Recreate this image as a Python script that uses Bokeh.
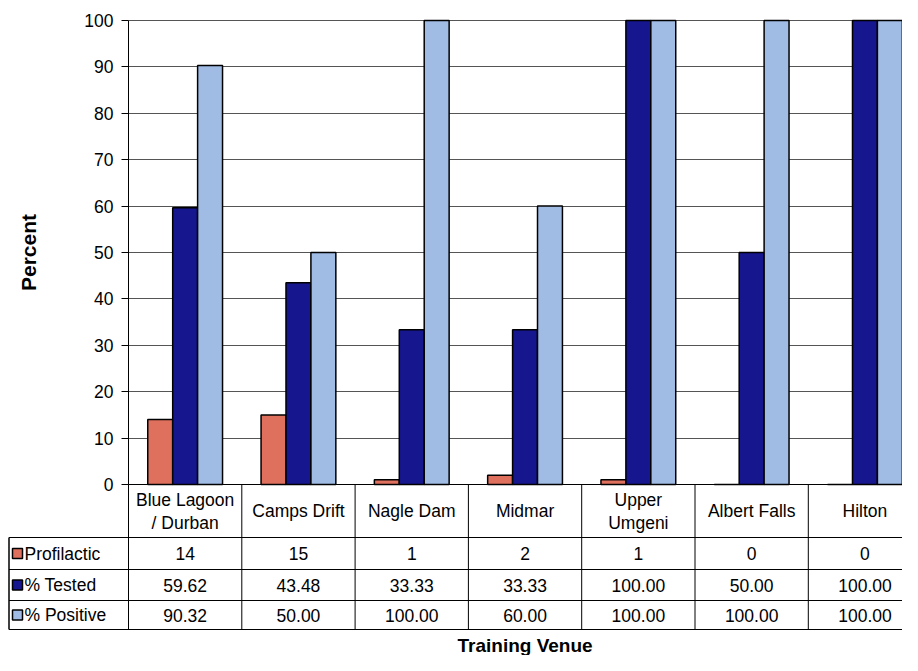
from bokeh.plotting import figure
from bokeh.models import Range1d, FixedTicker, ColumnDataSource
from bokeh.core.properties import value
from bokeh.embed import file_html
from bokeh.resources import INLINE

# ---------------- data ----------------
venues = ["Blue Lagoon\n/ Durban", "Camps Drift", "Nagle Dam", "Midmar",
          "Upper\nUmgeni", "Albert Falls", "Hilton"]
profilactic = [14, 15, 1, 2, 1, 0, 0]
tested = [59.62, 43.48, 33.33, 33.33, 100.00, 50.00, 100.00]
positive = [90.32, 50.00, 100.00, 60.00, 100.00, 100.00, 100.00]
row_names = ["Profilactic", "% Tested", "% Positive"]
y_ticks = [0, 10, 20, 30, 40, 50, 60, 70, 80, 90, 100]

# ---------------- style / layout ----------------
FONT = "Liberation Sans"
colors = ["#E0705E", "#16168F", "#A0BCE4"]
W, H = 902, 655
PX = 113.3          # pixels per category
LEFT = 128          # px where category axis starts
PY = 4.64           # pixels per percent
ZERO_PX = 484       # px of y = 0
x_start = -LEFT / PX
x_end = (W - LEFT) / PX
y_start = -(H - ZERO_PX) / PY
y_end = ZERO_PX / PY

def ypx(py):
    return -(py - ZERO_PX) / PY

def xpx(px):
    return x_start + px / PX

row_lines = [ypx(537), ypx(569), ypx(600), ypx(629)]
header_mid = ypx(510.5)
row_mids = [ypx(553), ypx(584.5), ypx(614.5)]

p = figure(width=W, height=H, x_range=Range1d(x_start, x_end),
           y_range=Range1d(y_start, y_end), output_backend="svg",
           toolbar_location=None, min_border_left=0, min_border_right=0,
           min_border_top=0, min_border_bottom=0, x_axis_location=None,
           y_axis_location="left")
p.outline_line_color = None
p.background_fill_color = "white"
p.border_fill_color = "white"

# y axis at x = 0
ax = p.yaxis[0]
ax.fixed_location = 0
ax.bounds = (0, 100)
ax.ticker = FixedTicker(ticks=y_ticks)
ax.major_tick_in = 0
ax.major_tick_out = 7
ax.minor_tick_line_color = None
ax.axis_line_color = "black"
ax.major_tick_line_color = "black"
ax.major_label_standoff = 8
ax.major_label_text_font = FONT
ax.major_label_text_font_size = "17.5px"
ax.major_label_text_color = "black"
ax.axis_label = "Percent"
ax.axis_label_text_font = FONT
ax.axis_label_text_font_size = "21px"
ax.axis_label_text_font_style = "bold"
ax.axis_label_text_color = "black"
ax.axis_label_standoff = 41

p.xgrid.visible = False
g = p.ygrid[0]
g.ticker = FixedTicker(ticks=y_ticks)
g.grid_line_color = "#555555"
g.grid_line_width = 1
if "cross_bounds" in g.properties():
    g.cross_bounds = (0, x_end)
else:
    g.visible = False
    p.segment(x0=[0] * len(y_ticks), x1=[x_end] * len(y_ticks), y0=y_ticks,
              y1=y_ticks, line_color="#555555", line_width=1)

# ---------------- bars ----------------
n = len(venues)
bw = 0.22
centers = [i + 0.5 for i in range(n)]
src = ColumnDataSource(dict(
    xp=[c - bw for c in centers], xt=centers, xq=[c + bw for c in centers],
    prof=profilactic, tested=tested, positive=positive))
p.vbar(x="xp", top="prof", bottom=0, width=bw, source=src,
       fill_color=colors[0], line_color="black", line_width=1.5)
p.vbar(x="xt", top="tested", bottom=0, width=bw, source=src,
       fill_color=colors[1], line_color="black", line_width=1.5)
p.vbar(x="xq", top="positive", bottom=0, width=bw, source=src,
       fill_color=colors[2], line_color="black", line_width=1.5)

# ---------------- data table ----------------
bottom = row_lines[-1]
leg_left = xpx(8.5)
bx = list(range(n + 1))
p.segment(x0=bx, x1=bx, y0=[0] * len(bx), y1=[bottom] * len(bx),
          line_color="black", line_width=1)
p.segment(x0=[leg_left], x1=[leg_left], y0=[row_lines[0]], y1=[bottom],
          line_color="black", line_width=1.5)
p.segment(x0=[0], x1=[x_end], y0=[0], y1=[0], line_color="black", line_width=1.2)
p.segment(x0=[leg_left] * len(row_lines), x1=[x_end] * len(row_lines),
          y0=row_lines, y1=row_lines, line_color="black", line_width=1)

# header (category names)
p.text(x=centers, y=[header_mid] * n, text=venues, text_align="center",
       text_baseline="middle", text_font=value(FONT), text_font_size="17.5px",
       text_color="black", text_line_height=1.15)

# cell values
cell_x, cell_y, cell_t = [], [], []
series = [profilactic, tested, positive]
for r, vals in enumerate(series):
    for i, v in enumerate(vals):
        cell_x.append(centers[i])
        cell_y.append(row_mids[r])
        cell_t.append(str(int(v)) if r == 0 else f"{v:.2f}")
p.text(x=cell_x, y=cell_y, text=cell_t, text_align="center",
       text_baseline="middle", text_font=value(FONT), text_font_size="17.5px",
       text_color="black")

# legend column: swatches + row names
p.scatter(x=[xpx(17)] * 3, y=row_mids, marker="square", size=10,
          fill_color=colors, line_color="black", line_width=1.5)
p.text(x=[xpx(24)] * 3, y=row_mids, text=row_names,
       text_align="left", text_baseline="middle", text_font=value(FONT),
       text_font_size="17.5px", text_color="black")

# x-axis title
p.text(x=[n / 2], y=[ypx(645)], text=["Training Venue"], text_align="center",
       text_baseline="alphabetic", text_font=value(FONT), text_font_size="19px",
       text_font_style="bold", text_color="black")

open("out.html", "w").write(file_html(p, INLINE))
